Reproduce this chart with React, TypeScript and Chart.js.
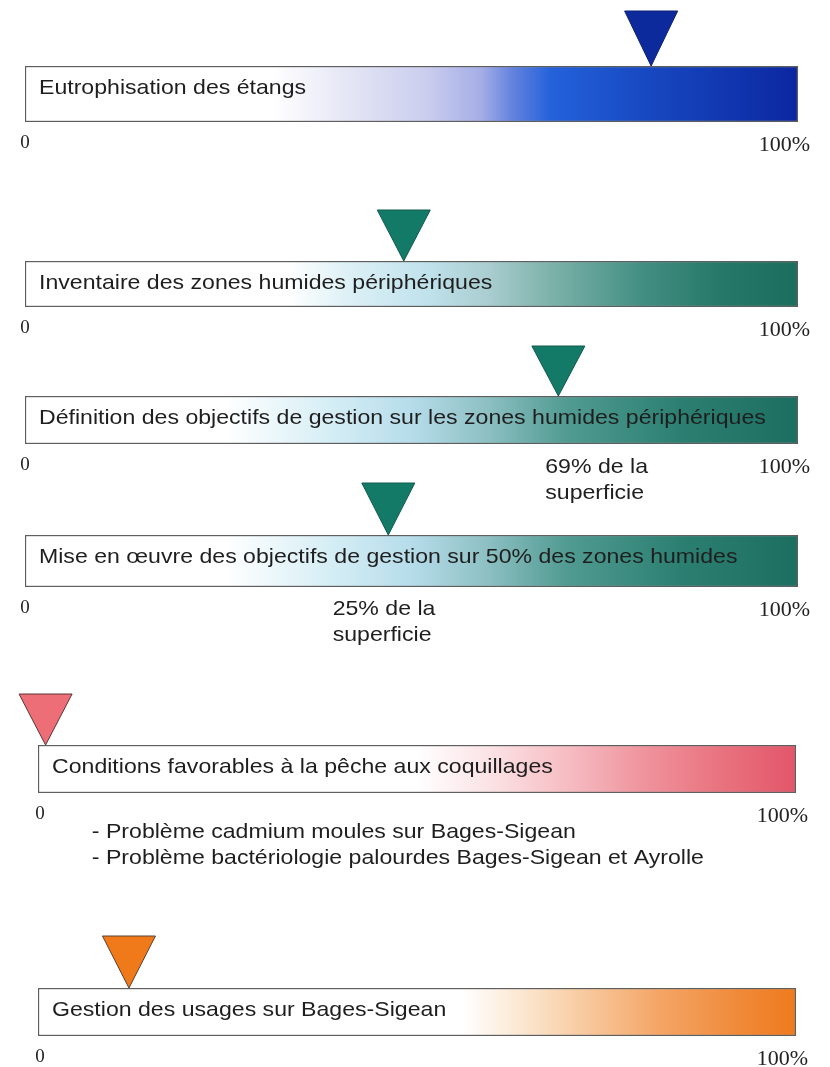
import React, { useEffect, useRef } from 'react';
import { Chart, registerables } from 'chart.js';

Chart.register(...registerables);

// ---------- DATA ----------
const titles = [
  'Eutrophisation des étangs',
  'Inventaire des zones humides périphériques',
  'Définition des objectifs de gestion sur les zones humides périphériques',
  'Mise en œuvre des objectifs de gestion sur 50% des zones humides',
  'Conditions favorables à la pêche aux coquillages',
  'Gestion des usages sur Bages-Sigean',
];
const markerValues = [81, 49, 69, 47, 1, 12];
const barRange = [0, 100];
const tickValues = [0, 100];
const tickLabels = ['0', '100%'];
const noteLines: string[][] = [
  [],
  [],
  ['69% de la', 'superficie'],
  ['25% de la', 'superficie'],
  ['- Problème cadmium moules sur Bages-Sigean', '- Problème bactériologie palourdes Bages-Sigean et Ayrolle'],
  [],
];
const noteAnchors = [null, null, 67.3, 39.8, 7.1, null];

// ---------- STYLE / LAYOUT ----------
type Stop = [number, string];
const blueStops: Stop[] = [
  [0, '#ffffff'], [0.32, '#ffffff'], [0.42, '#e4e5f5'], [0.52, '#cacdee'], [0.59, '#a5aee6'],
  [0.63, '#6483de'], [0.68, '#2462da'], [0.8, '#1749c2'], [1, '#0b27a0'],
];
const tealStopsA: Stop[] = [
  [0, '#ffffff'], [0.34, '#ffffff'], [0.42, '#dcf0f6'], [0.52, '#c0e2ec'], [0.6, '#a9cdd0'],
  [0.68, '#7db2aa'], [0.8, '#428e82'], [0.9, '#267868'], [1, '#1b6e5e'],
];
const tealStopsB: Stop[] = [
  [0, '#ffffff'], [0.26, '#ffffff'], [0.4, '#d4edf5'], [0.5, '#b6dcea'], [0.6, '#8cbfc2'],
  [0.7, '#519b92'], [0.85, '#2b7f71'], [1, '#1c6e60'],
];
const redStops: Stop[] = [
  [0, '#ffffff'], [0.5, '#ffffff'], [0.6, '#fbe1e4'], [0.7, '#f6bcc2'], [0.8, '#ef939c'],
  [0.9, '#e9737f'], [1, '#e2566a'],
];
const orangeStops: Stop[] = [
  [0, '#ffffff'], [0.56, '#ffffff'], [0.65, '#fbe3ca'], [0.72, '#f8ca9f'], [0.82, '#f4a566'],
  [0.92, '#f08b3b'], [1, '#ee7a1d'],
];

const ROWS = [
  { barTop: 66, barBottom: 122, left: 25, right: 798, stops: blueStops, tri: '#0d2a9c', triEdge: '#0a1f70', triH: 55, noteOff: 0, zeroDx: 0 },
  { barTop: 261, barBottom: 307, left: 25, right: 798, stops: tealStopsA, tri: '#147a68', triEdge: '#0e5a4c', triH: 51, noteOff: 0, zeroDx: 0 },
  { barTop: 396, barBottom: 444, left: 25, right: 798, stops: tealStopsB, tri: '#147a68', triEdge: '#0e5a4c', triH: 50, noteOff: 29, zeroDx: 0 },
  { barTop: 535, barBottom: 587, left: 25, right: 798, stops: tealStopsB, tri: '#147a68', triEdge: '#0e5a4c', triH: 52, noteOff: 28, zeroDx: 0 },
  { barTop: 745, barBottom: 793, left: 38, right: 796, stops: redStops, tri: '#ee6e78', triEdge: '#5a3434', triH: 51, noteOff: 45, zeroDx: 2 },
  { barTop: 988, barBottom: 1036, left: 38, right: 796, stops: orangeStops, tri: '#f07a1a', triEdge: '#5a4030', triH: 52, noteOff: 0, zeroDx: 2 },
];

const PAD_TOP = 62;
const PAD_BOTTOM = 90;
const TRI_W = 53;
const STRETCH = 1.1;
const SANS = '"Liberation Sans", Arial, sans-serif';
const SERIF = '"Liberation Serif", "Times New Roman", serif';

function stretchedText(ctx: CanvasRenderingContext2D, text: string, x: number, y: number) {
  ctx.save();
  ctx.translate(x, y);
  ctx.scale(STRETCH, 1);
  ctx.fillText(text, 0, 0);
  ctx.restore();
}

const overlayPlugin = {
  id: 'overlay',
  afterDatasetsDraw(chart: any, _args: any, opts: any) {
    const i: number = opts.row;
    const L = ROWS[i];
    const { ctx, chartArea } = chart;
    const xs = chart.scales.x;

    // marker triangle
    const tipX = xs.getPixelForValue(markerValues[i]);
    const tipY = chartArea.top;
    ctx.save();
    ctx.beginPath();
    ctx.moveTo(tipX, tipY);
    ctx.lineTo(tipX - TRI_W / 2, tipY - L.triH);
    ctx.lineTo(tipX + TRI_W / 2, tipY - L.triH);
    ctx.closePath();
    ctx.fillStyle = L.tri;
    ctx.fill();
    ctx.lineWidth = 1;
    ctx.strokeStyle = L.triEdge;
    ctx.stroke();
    ctx.restore();

    // title inside the bar
    ctx.save();
    ctx.fillStyle = '#1e1e1e';
    ctx.font = `21px ${SANS}`;
    ctx.textAlign = 'left';
    ctx.textBaseline = 'alphabetic';
    stretchedText(ctx, titles[i], chartArea.left + 14, chartArea.top + 28);

    // axis end labels
    ctx.font = `19px ${SERIF}`;
    ctx.textAlign = 'center';
    ctx.textBaseline = 'middle';
    ctx.fillStyle = '#222';
    ctx.fillText(tickLabels[0], xs.getPixelForValue(tickValues[0]) + L.zeroDx, chartArea.bottom + 21);
    ctx.font = `22px ${SERIF}`;
    ctx.textAlign = 'right';
    ctx.fillText(tickLabels[1], xs.getPixelForValue(tickValues[1]) + 12, chartArea.bottom + 23);

    // notes
    const lines = noteLines[i];
    const anchor = noteAnchors[i];
    if (lines.length && anchor !== null) {
      ctx.font = `21px ${SANS}`;
      ctx.textAlign = 'left';
      ctx.textBaseline = 'alphabetic';
      ctx.fillStyle = '#1e1e1e';
      const nx = xs.getPixelForValue(anchor);
      lines.forEach((t, k) => {
        stretchedText(ctx, t, nx, chartArea.bottom + L.noteOff + k * 26);
      });
    }
    ctx.restore();
  },
};

function Row({ i }: { i: number }) {
  const ref = useRef<HTMLCanvasElement | null>(null);
  const L = ROWS[i];
  const h = PAD_TOP + (L.barBottom - L.barTop) + PAD_BOTTOM;

  useEffect(() => {
    if (!ref.current) return;
    const chart = new Chart(ref.current, {
      type: 'bar',
      data: {
        labels: [titles[i]],
        datasets: [
          {
            data: [[barRange[0], barRange[1]]] as any,
            backgroundColor: (c: any) => {
              const area = c.chart.chartArea;
              if (!area) return '#ffffff';
              const g = c.chart.ctx.createLinearGradient(area.left, 0, area.right, 0);
              L.stops.forEach(([p, col]) => g.addColorStop(p, col));
              return g;
            },
            borderColor: '#5e5e5e',
            borderWidth: 1.5,
            borderSkipped: false,
            barPercentage: 1,
            categoryPercentage: 1,
          },
        ],
      },
      options: {
        indexAxis: 'y',
        animation: false,
        responsive: false,
        maintainAspectRatio: false,
        events: [],
        layout: {
          padding: { left: L.left, right: 830 - L.right, top: PAD_TOP, bottom: PAD_BOTTOM },
        },
        scales: {
          x: { type: 'linear', min: 0, max: 100, display: false },
          y: { type: 'category', display: false },
        },
        plugins: {
          legend: { display: false },
          tooltip: { enabled: false },
          overlay: { row: i },
        } as any,
      },
      plugins: [overlayPlugin],
    });
    return () => chart.destroy();
  }, [i]);

  return (
    <canvas
      ref={ref}
      width={830}
      height={h}
      style={{ position: 'absolute', left: 0, top: L.barTop - PAD_TOP, width: 830, height: h }}
    />
  );
}

export default function App() {
  return (
    <div style={{ position: 'absolute', left: 0, top: 0, width: 830, height: 1067, background: '#ffffff', overflow: 'hidden' }}>
      {ROWS.map((_, i) => (
        <Row key={i} i={i} />
      ))}
    </div>
  );
}
